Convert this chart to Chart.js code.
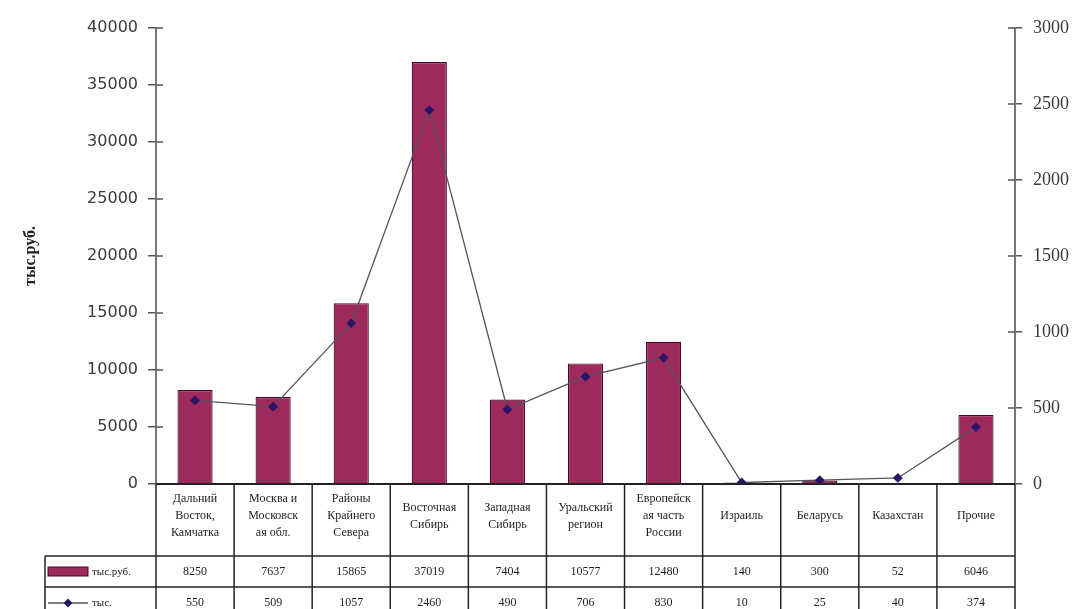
<!DOCTYPE html>
<html>
<head>
<meta charset="utf-8">
<script src="https://cdn.jsdelivr.net/npm/chart.js@4"></script>
<style>
html,body{margin:0;padding:0;background:#fff;}
#wrap{width:1080px;height:609px;position:relative;}
</style>
</head>
<body>
<div id="wrap"><canvas id="c" width="1080" height="609"></canvas></div>
<script>
const categories = [
  ["Дальний","Восток,","Камчатка"],
  ["Москва и","Московск","ая обл."],
  ["Районы","Крайнего","Севера"],
  ["Восточная","Сибирь"],
  ["Западная","Сибирь"],
  ["Уральский","регион"],
  ["Европейск","ая часть","России"],
  ["Израиль"],
  ["Беларусь"],
  ["Казахстан"],
  ["Прочие"]
];
const rubValues = [8250, 7637, 15865, 37019, 7404, 10577, 12480, 140, 300, 52, 6046];
const secondValues = [550, 509, 1057, 2460, 490, 706, 830, 10, 25, 40, 374];
const leftTicks = [0,5000,10000,15000,20000,25000,30000,35000,40000];
const rightTicks = [0,500,1000,1500,2000,2500,3000];
const rubLabel = "тыс.руб.";
const secondLabel = "тыс.";

const BAR_FILL = '#9e295d';
const BAR_BORDER = '#3d0c24';
const LINE_COLOR = '#55555f';
const POINT_COLOR = '#2a1466';

const tablePlugin = {
  id: 'tablePlugin',
  afterDraw(chart) {
    const ctx = chart.ctx;
    const ca = chart.chartArea;
    const xs = chart.scales.x;
    const yl = chart.scales.y;
    const yr = chart.scales.y1;
    const n = categories.length;
    const colW = (ca.right - ca.left) / n;
    const zeroY = yl.getPixelForValue(0);
    const headBottom = 556, row1Bottom = 587, tableBottom = 620, legendLeft = 45;
    ctx.save();
    ctx.strokeStyle = '#555';
    ctx.lineWidth = 1.5;
    leftTicks.forEach(v => {
      const y = yl.getPixelForValue(v);
      ctx.beginPath(); ctx.moveTo(ca.left, y); ctx.lineTo(ca.left + 7, y); ctx.stroke();
    });
    rightTicks.forEach(v => {
      const y = yr.getPixelForValue(v);
      ctx.beginPath(); ctx.moveTo(ca.right - 7, y); ctx.lineTo(ca.right, y); ctx.stroke();
    });
    ctx.strokeStyle = '#222';
    ctx.lineWidth = 1.8;
    ctx.beginPath(); ctx.moveTo(ca.left, zeroY); ctx.lineTo(ca.right, zeroY); ctx.stroke();
    ctx.lineWidth = 1.5;
    ctx.strokeStyle = '#222';
    for (let i = 0; i <= n; i++) {
      const x = (i === n) ? ca.right : xs.getPixelForValue(i) - colW / 2;
      ctx.beginPath(); ctx.moveTo(x, zeroY); ctx.lineTo(x, tableBottom); ctx.stroke();
    }
    ctx.beginPath(); ctx.moveTo(legendLeft, headBottom); ctx.lineTo(legendLeft, tableBottom); ctx.stroke();
    [headBottom, row1Bottom].forEach(y => {
      ctx.beginPath(); ctx.moveTo(legendLeft, y); ctx.lineTo(ca.right, y); ctx.stroke();
    });
    ctx.fillStyle = '#1e1e1e';
    ctx.font = '12px "Liberation Serif", serif';
    ctx.textAlign = 'center';
    ctx.textBaseline = 'middle';
    const lh = 17;
    categories.forEach((lines, i) => {
      const cx = xs.getPixelForValue(i);
      const startY = 516 - (lines.length - 1) * lh / 2;
      lines.forEach((t, k) => ctx.fillText(t, cx, startY + k * lh));
    });
    rubValues.forEach((v, i) => ctx.fillText(String(v), xs.getPixelForValue(i), 572));
    secondValues.forEach((v, i) => ctx.fillText(String(v), xs.getPixelForValue(i), 603));
    ctx.fillStyle = BAR_FILL;
    ctx.strokeStyle = BAR_BORDER;
    ctx.lineWidth = 1;
    ctx.fillRect(48, 567, 40, 9);
    ctx.strokeRect(48, 567, 40, 9);
    ctx.strokeStyle = LINE_COLOR;
    ctx.lineWidth = 1.3;
    ctx.beginPath(); ctx.moveTo(48, 603); ctx.lineTo(88, 603); ctx.stroke();
    ctx.fillStyle = POINT_COLOR;
    ctx.beginPath(); ctx.moveTo(68, 598.5); ctx.lineTo(72.5, 603); ctx.lineTo(68, 607.5); ctx.lineTo(63.5, 603); ctx.closePath(); ctx.fill();
    ctx.fillStyle = '#1e1e1e';
    ctx.textAlign = 'left';
    ctx.font = '11px "Liberation Serif", serif';
    ctx.fillText(rubLabel, 92, 572);
    ctx.fillText(secondLabel, 92, 603);
    ctx.restore();
  }
};

const chart = new Chart(document.getElementById('c'), {
  data: {
    labels: categories.map(l => l.join(' ')),
    datasets: [
      {
        type: 'line',
        label: secondLabel,
        data: secondValues,
        yAxisID: 'y1',
        borderColor: LINE_COLOR,
        borderWidth: 1.3,
        pointStyle: 'rectRot',
        pointRadius: 4,
        pointBackgroundColor: POINT_COLOR,
        pointBorderColor: POINT_COLOR,
        tension: 0,
        order: 0
      },
      {
        type: 'bar',
        label: rubLabel,
        data: rubValues,
        yAxisID: 'y',
        backgroundColor: BAR_FILL,
        borderColor: BAR_BORDER,
        borderWidth: 1.2,
        categoryPercentage: 1,
        barPercentage: 0.45,
        order: 1
      }
    ]
  },
  options: {
    responsive: false,
    animation: false,
    devicePixelRatio: 1,
    layout: { padding: { top: 28, bottom: 125, left: 0, right: 0 } },
    plugins: { legend: { display: false }, tooltip: { enabled: false } },
    scales: {
      x: { display: false, offset: true },
      y: {
        position: 'left',
        min: 0, max: 40000,
        afterFit(s) { s.width = 156; },
        afterBuildTicks(s) { s.ticks = leftTicks.map(v => ({ value: v })); },
        ticks: { color: '#3a3a3a', padding: 10, font: { family: '"DejaVu Sans", sans-serif', size: 16 }, callback: v => String(v) },
        grid: { drawOnChartArea: false, tickLength: 8, color: '#555', lineWidth: 1.5 },
        border: { display: true, color: '#777', width: 2 },
        title: { display: true, text: rubLabel, color: '#222', padding: { top: 21, bottom: 0 }, font: { family: '"Liberation Serif", serif', size: 16, weight: 'bold' } }
      },
      y1: {
        position: 'right',
        min: 0, max: 3000,
        afterFit(s) { s.width = 65; },
        afterBuildTicks(s) { s.ticks = rightTicks.map(v => ({ value: v })); },
        ticks: { color: '#3a3a3a', padding: 11, font: { family: '"Liberation Serif", serif', size: 18 }, callback: v => String(v) },
        grid: { drawOnChartArea: false, tickLength: 7, color: '#555', lineWidth: 1.5 },
        border: { display: true, color: '#777', width: 2 }
      }
    }
  },
  plugins: [tablePlugin]
});
</script>
</body>
</html>
